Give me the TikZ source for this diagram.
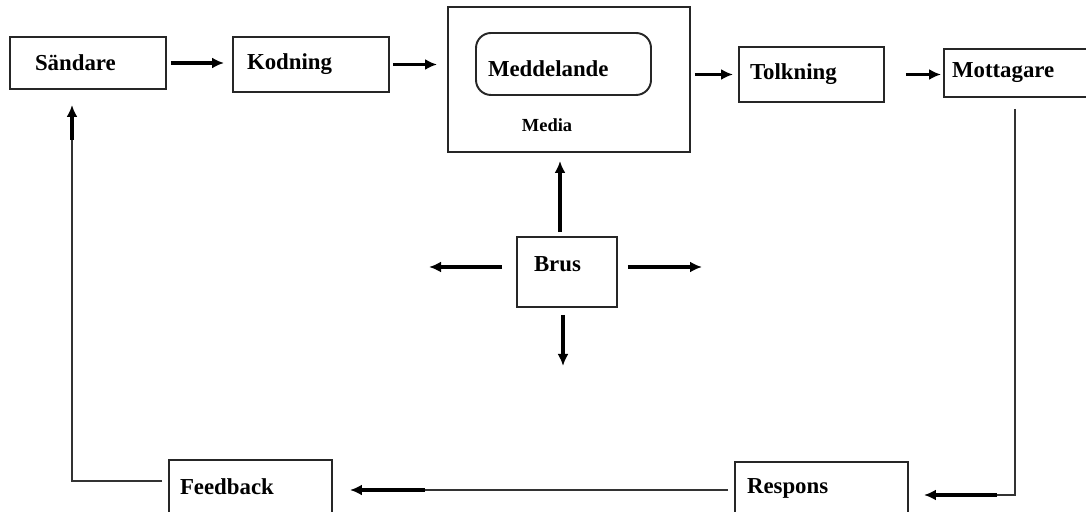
\documentclass[tikz,border=0pt]{standalone}
\usepackage{fontspec}
\setmainfont{Liberation Serif}
\usetikzlibrary{arrows.meta}

\begin{document}
\begin{tikzpicture}[
    x=1cm,
    y=1cm,
    >={Latex[length=0.24cm,width=0.22cm]},
    font=\fontsize{13}{15}\selectfont\bfseries,
    ruta/.style={draw=black!85,line width=1.1pt,inner ysep=0pt,align=left},
    pil/.style={line width=2.1pt,->},
    tunn/.style={draw=black!80,line width=1.1pt}
]
    \useasboundingbox (0,0) rectangle (21.72,10.22);

    \node[ruta,minimum width=3.12cm,minimum height=1.04cm,inner xsep=0.5cm,text width=2.12cm]
        (sand) at (1.76,8.96) {Sändare};
    \node[ruta,minimum width=3.12cm,minimum height=1.10cm,inner xsep=0.28cm,text width=2.56cm]
        (kod) at (6.22,8.93) {Kodning};
    \node[ruta,minimum width=4.84cm,minimum height=2.90cm] (media) at (11.38,8.63) {};
    \node[ruta,rounded corners=0.3cm,minimum width=3.50cm,minimum height=1.24cm,
        inner xsep=0.24cm,text width=3.02cm,text height=0.5cm]
        (medd) at (11.27,8.94) {Meddelande};
    \node[font=\fontsize{10.5}{12}\selectfont\bfseries] (medlbl) at (10.94,7.72) {Media};
    \node[ruta,minimum width=2.90cm,minimum height=1.10cm,inner xsep=0.22cm,text width=2.46cm]
        (tolk) at (16.23,8.73) {Tolkning};
    \node[ruta,minimum width=2.88cm,minimum height=0.96cm,inner xsep=0.16cm,text width=2.56cm]
        (mott) at (20.32,8.76) {Mottagare};
    \node[ruta,minimum width=2.00cm,minimum height=1.40cm,inner xsep=0.34cm,text width=1.32cm,
        text depth=0.32cm]
        (brus) at (11.34,4.78) {Brus};
    \node[ruta,minimum width=3.26cm,minimum height=1.08cm,inner xsep=0.22cm,text width=2.82cm]
        (feed) at (5.01,0.48) {Feedback};
    \node[ruta,minimum width=3.46cm,minimum height=1.04cm,inner xsep=0.24cm,text width=2.98cm]
        (resp) at (16.43,0.46) {Respons};

    % kedjan
    \draw[pil,shorten <=0.08cm,shorten >=0.16cm] (sand.east) -- (sand.east -| kod.west);
    \draw[pil,shorten <=0.06cm,shorten >=0.2cm] (kod.east) -- (kod.east -| media.west);
    \draw[pil,shorten <=0.08cm,shorten >=0.1cm] (media.east |- tolk.west) -- (tolk.west);
    \draw[pil,shorten <=0.42cm,shorten >=0.04cm] (tolk.east) -- (tolk.east -| mott.west);

    % brus
    \coordinate (bn) at ([xshift=-0.14cm]brus.north);
    \coordinate (vbrus) at (8.58,4.88);
    \coordinate (hbrus) at (14.04,4.88);
    \coordinate (nbrus) at (11.26,2.90);
    \draw[pil,shorten <=0.08cm,shorten >=0.16cm] (bn) -- (bn |- media.south);
    \draw[pil,shorten <=0.28cm] (brus.west |- vbrus) -- (vbrus);
    \draw[pil,shorten <=0.2cm] (brus.east |- hbrus) -- (hbrus);
    \draw[pil,shorten <=0.14cm] (nbrus |- brus.south) -- (nbrus);

    % återkoppling
    \coordinate (mhorn) at (20.30,0.32);
    \coordinate (mpil) at (19.94,0.32);
    \draw[tunn,shorten <=0.22cm] (mhorn |- mott.south) -- (mhorn) -- (mpil);
    \draw[pil,shorten >=0.3cm] (mpil) -- (resp.east |- mpil);

    \coordinate (rpil) at (8.50,0.42);
    \draw[tunn,shorten <=0.12cm] (resp.west |- rpil) -- (rpil);
    \draw[pil,shorten >=0.34cm] (rpil) -- (feed.east |- rpil);

    \coordinate (fhorn) at (1.44,0.60);
    \coordinate (fpil) at (1.44,7.42);
    \draw[tunn,shorten <=0.12cm] (feed.west |- fhorn) -- (fhorn) -- (fpil);
    \draw[pil,shorten >=0.3cm] (fpil) -- (fpil |- sand.south);
\end{tikzpicture}
\end{document}
